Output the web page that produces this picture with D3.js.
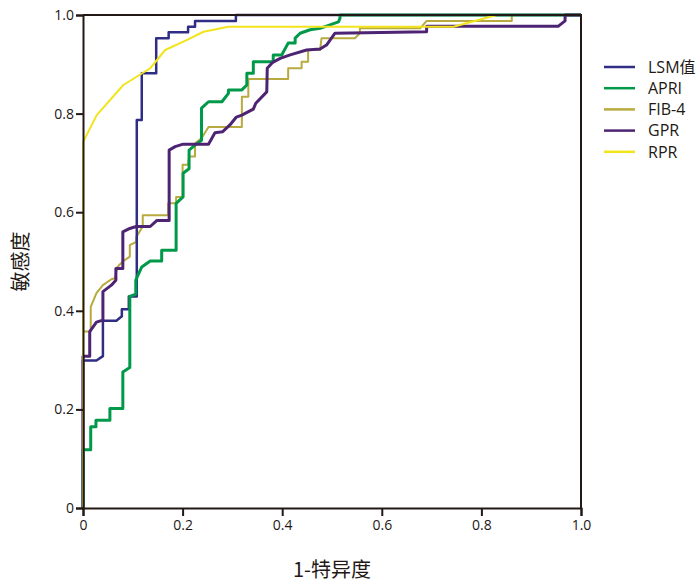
<!DOCTYPE html>
<meta charset="utf-8">
<html>
<head>
<script src="https://d3js.org/d3.v7.min.js"></script>
<style>
  body { margin: 0; background: #fff; }
  text { font-family: "Open Sans", "Noto Sans", "Noto Sans CJK SC", sans-serif; fill: #231815; }
  .title { font-family: "Noto Sans CJK SC", "Noto Sans", sans-serif; }
</style>
</head>
<body>
<svg width="700" height="587"></svg>
<script>

// ROC points: [1-specificity, sensitivity]
var lsmPts = [[0,0],[0,0.299],[0.027,0.299],[0.04,0.308],[0.04,0.38],[0.067,0.38],[0.078,0.389],[0.078,0.403],
  [0.092,0.403],[0.092,0.429],[0.108,0.429],[0.108,0.787],[0.118,0.787],[0.118,0.882],[0.147,0.882],[0.147,0.953],
  [0.172,0.953],[0.172,0.965],[0.211,0.965],[0.211,0.976],[0.225,0.976],[0.225,0.988],[0.307,0.988],[0.307,1],[1,1]];

var apriPts = [[0,0],[0,0.118],[0.0155,0.118],[0.0155,0.165],[0.026,0.165],[0.026,0.178],[0.054,0.178],[0.054,0.202],
  [0.08,0.202],[0.08,0.276],[0.094,0.285],[0.094,0.429],[0.106,0.434],[0.106,0.462],[0.118,0.489],[0.135,0.501],
  [0.158,0.501],[0.158,0.523],[0.187,0.523],[0.187,0.618],[0.201,0.631],[0.201,0.679],[0.213,0.688],[0.213,0.726],
  [0.225,0.736],[0.238,0.746],[0.238,0.811],[0.252,0.824],[0.279,0.824],[0.292,0.841],[0.292,0.848],[0.319,0.848],
  [0.329,0.858],[0.329,0.882],[0.342,0.882],[0.342,0.905],[0.382,0.905],[0.382,0.919],[0.399,0.919],[0.412,0.943],
  [0.426,0.943],[0.426,0.953],[0.436,0.963],[0.456,0.97],[0.476,0.973],[0.496,0.98],[0.513,0.986],[0.516,0.993],
  [0.516,1],[1,1]];

var fib4Pts = [[0,0],[0,0.358],[0.0155,0.358],[0.0155,0.408],[0.027,0.436],[0.04,0.452],[0.057,0.464],[0.064,0.466],
  [0.069,0.489],[0.08,0.5],[0.094,0.51],[0.094,0.533],[0.107,0.54],[0.107,0.55],[0.12,0.571],[0.12,0.594],
  [0.171,0.594],[0.171,0.618],[0.187,0.618],[0.187,0.631],[0.2,0.631],[0.2,0.696],[0.211,0.696],[0.213,0.713],
  [0.225,0.713],[0.225,0.74],[0.238,0.75],[0.252,0.773],[0.319,0.773],[0.319,0.834],[0.332,0.834],[0.332,0.87],
  [0.412,0.87],[0.412,0.892],[0.439,0.892],[0.439,0.905],[0.452,0.905],[0.452,0.929],[0.476,0.929],[0.479,0.953],
  [0.546,0.953],[0.556,0.963],[0.556,0.973],[0.677,0.973],[0.69,0.988],[0.861,0.988],[0.861,1],[1,1]];

var gprPts = [[0,0],[0,0.308],[0.0135,0.308],[0.0135,0.358],[0.027,0.377],[0.04,0.381],[0.04,0.439],[0.057,0.452],
  [0.066,0.462],[0.066,0.486],[0.08,0.486],[0.08,0.56],[0.094,0.567],[0.107,0.571],[0.135,0.571],[0.148,0.583],
  [0.173,0.583],[0.173,0.726],[0.185,0.733],[0.201,0.738],[0.252,0.738],[0.265,0.761],[0.28,0.763],[0.295,0.777],
  [0.308,0.793],[0.319,0.797],[0.342,0.809],[0.347,0.821],[0.369,0.844],[0.37,0.892],[0.381,0.904],[0.396,0.912],
  [0.416,0.919],[0.449,0.929],[0.476,0.931],[0.489,0.939],[0.506,0.963],[0.69,0.966],[0.69,0.977],[0.954,0.977],
  [0.968,0.988],[0.968,1],[1,1]];

var rprPts = [[0,0],[0,0.742],[0.0275,0.797],[0.081,0.858],[0.135,0.892],[0.165,0.929],[0.208,0.949],[0.242,0.966],
  [0.292,0.976],[0.744,0.976],[0.831,1],[1,1]];

var seriesNames = ["LSM值", "APRI", "FIB-4", "GPR", "RPR"];
var seriesPts = [lsmPts, apriPts, fib4Pts, gprPts, rprPts];
var seriesColors = ["#302d84", "#00994a", "#b8aa3e", "#4d2373", "#f2e41c"];
var seriesWidths = [2.5, 3, 2, 3, 2];
var drawOrder = [2, 0, 1, 3, 4];

var tickValues = [0, 0.2, 0.4, 0.6, 0.8, 1.0];

var svg = d3.select("svg"),
    margin = {top: 15, right: 119, bottom: 79, left: 83},
    width = +svg.attr("width"),
    height = +svg.attr("height");

var x = d3.scaleLinear().domain([0, 1]).range([margin.left, width - margin.right]);
var y = d3.scaleLinear().domain([0, 1]).range([height - margin.bottom, margin.top]);

var fmt = function(d) { return d === 0 ? "0" : d3.format(".1f")(d); };

var line = d3.line()
    .x(function(d) { return x(d[0]); })
    .y(function(d) { return y(d[1]); });

// curves
svg.append("g")
  .selectAll("path")
  .data(drawOrder)
  .enter().append("path")
    .attr("fill", "none")
    .attr("stroke", function(i) { return seriesColors[i]; })
    .attr("stroke-width", function(i) { return seriesWidths[i]; })
    .attr("stroke-linejoin", "round")
    .attr("d", function(i) { return line(seriesPts[i]); });

// frame top and right
svg.append("path")
    .attr("fill", "none")
    .attr("stroke", "#231815")
    .attr("stroke-width", 2)
    .attr("d", "M" + x(0) + "," + y(1) + "H" + x(1) + "V" + y(0));

var xAxis = svg.append("g")
    .attr("transform", "translate(0," + y(0) + ")")
    .call(d3.axisBottom(x).tickValues(tickValues).tickFormat(fmt).tickSize(8).tickPadding(4));

var yAxis = svg.append("g")
    .attr("transform", "translate(" + x(0) + ",0)")
    .call(d3.axisLeft(y).tickValues(tickValues).tickFormat(fmt).tickSize(7).tickPadding(2));

[xAxis, yAxis].forEach(function(g) {
  g.select(".domain").attr("stroke", "#231815").attr("stroke-width", 2);
  g.selectAll(".tick line").attr("stroke", "#231815").attr("stroke-width", 2);
  g.selectAll(".tick text").style("font-size", "14px").attr("fill", "#231815")
    .style("font-family", "'Open Sans', 'Noto Sans', sans-serif");
});

// axis titles
svg.append("text")
    .attr("class", "title")
    .attr("x", (x(0) + x(1)) / 2)
    .attr("y", 577)
    .attr("text-anchor", "middle")
    .style("font-size", "20px")
    .text("1-特异度");

svg.append("text")
    .attr("class", "title")
    .attr("transform", "translate(28," + (y(0) + y(1)) / 2 + ") rotate(-90)")
    .attr("text-anchor", "middle")
    .style("font-size", "20px")
    .text("敏感度");

// legend
var legend = svg.append("g")
  .selectAll("g")
  .data(seriesNames)
  .enter().append("g")
    .attr("transform", function(d, i) { return "translate(604," + (67 + i * 21.2) + ")"; });

legend.append("line")
    .attr("x1", 0).attr("x2", 31)
    .attr("stroke", function(d, i) { return seriesColors[i]; })
    .attr("stroke-width", 2.5);

legend.append("text")
    .attr("x", 44)
    .attr("dy", "0.36em")
    .style("font-size", "16px")
    .style("font-family", "'Open Sans', 'Noto Sans CJK SC', sans-serif")
    .text(function(d) { return d; });

</script>
</body>
</html>
